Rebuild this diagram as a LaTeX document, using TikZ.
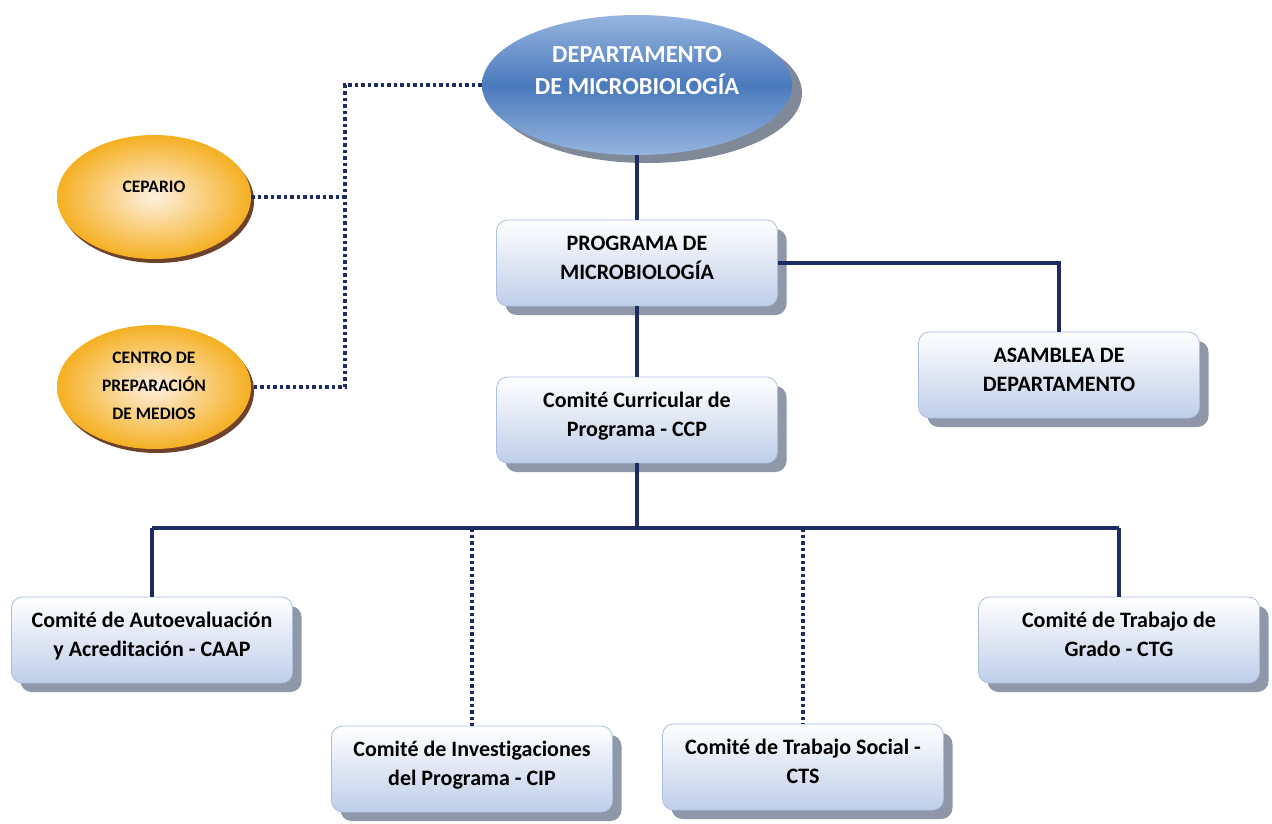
\documentclass[tikz,border=0pt]{standalone}
\usepackage{fontspec}
\setmainfont{Carlito}[Ligatures=NoCommon]
\usetikzlibrary{shapes.geometric,shadows}

\definecolor{linea}{RGB}{31,43,99}
\definecolor{cajaborde}{RGB}{172,192,222}
\definecolor{cajafondo}{RGB}{190,206,233}
\definecolor{sombra}{RGB}{142,152,168}
\definecolor{azulclaro}{RGB}{150,180,222}
\definecolor{azul}{RGB}{74,122,188}
\definecolor{naranja}{RGB}{245,176,34}
\definecolor{crema}{RGB}{254,240,224}
\definecolor{sombrana}{RGB}{110,66,42}

% texto centrado, algo subido
\newcommand{\bloque}[2][4pt]{\raisebox{#1}[\height][\depth]{\begin{tabular}{@{}c@{}}#2\end{tabular}}}

\begin{document}
\begin{tikzpicture}[x=1pt, y=-1pt,
	caja/.style={draw=cajaborde, line width=0.8pt, rounded corners=11pt,
		top color=white, bottom color=cajafondo,
		minimum width=281pt, minimum height=86pt, inner sep=0pt,
		font=\fontsize{22}{29}\selectfont\bfseries,
		drop shadow={shadow xshift=9pt, shadow yshift=-9pt, fill=sombra, opacity=1}},
	depto/.style={ellipse, minimum width=310pt, minimum height=140pt, inner sep=0pt,
		top color=azulclaro, bottom color=azulclaro, middle color=azul,
		text=white, font=\fontsize{24.5}{32}\selectfont\bfseries,
		drop shadow={shadow xshift=10pt, shadow yshift=-8pt, fill=sombra!90!black, opacity=1}},
	unidad/.style={ellipse, minimum width=194pt, minimum height=124pt, inner sep=0pt,
		inner color=crema, outer color=naranja,
		font=\fontsize{17.5}{28}\selectfont\bfseries,
		drop shadow={shadow xshift=3pt, shadow yshift=-4pt, fill=sombrana, opacity=1}},
	solido/.style={draw=linea, line width=3.5pt},
	punteado/.style={draw=linea, line width=3.5pt, dash pattern=on 3.5pt off 3pt}]

	\useasboundingbox (0,0) rectangle (1272,823);

	%nodos
	\node [depto] (dept) at (637,85) {\bloque[13pt]{DEPARTAMENTO\\DE MICROBIOLOGÍA}};
	\node [unidad] (cep) at (154,197) {\bloque[10pt]{CEPARIO}};
	\node [unidad] (cpm) at (154,387) {\bloque[1pt]{CENTRO DE\\PREPARACIÓN\\DE MEDIOS}};
	\node [caja] (prog) at (637,263) {\bloque{PROGRAMA DE\\MICROBIOLOGÍA}};
	\node [caja] (asam) at (1059,375) {\bloque{ASAMBLEA DE\\DEPARTAMENTO}};
	\node [caja] (ccp) at (637,420) {\bloque{Comité Curricular de\\Programa - CCP}};
	\node [caja] (caap) at (152,640) {\bloque{Comité de Autoevaluación\\y Acreditación - CAAP}};
	\node [caja] (cip) at (472,769) {\bloque{Comité de Investigaciones\\del Programa - CIP}};
	\node [caja] (cts) at (803,767) {\bloque{Comité de Trabajo Social -\\CTS}};
	\node [caja] (ctg) at (1119,640) {\bloque{Comité de Trabajo de\\Grado - CTG}};

	\coordinate (izq) at (345,83);
	\coordinate (bus) at (637,528);

	%conectores
	\draw [solido] (dept.south) -- (prog.north);
	\draw [solido] (prog.south) -- (ccp.north);
	\draw [solido] (prog.east) -| (asam.north);
	\draw [solido] (ccp.south) -- (bus);
	\draw [solido] (bus -| caap.north) -- (bus -| ctg.north);
	\foreach \n/\s in {caap/solido, cip/punteado, cts/punteado, ctg/solido}
	{
		\draw [\s] (bus -| \n.north) -- (\n.north);
	}

	\draw [punteado] (dept.west) -- (dept.west -| izq) -- (izq |- cpm.east) -- (cpm.east);
	\draw [punteado] (cep.east) -- (cep.east -| izq);

\end{tikzpicture}
\end{document}
